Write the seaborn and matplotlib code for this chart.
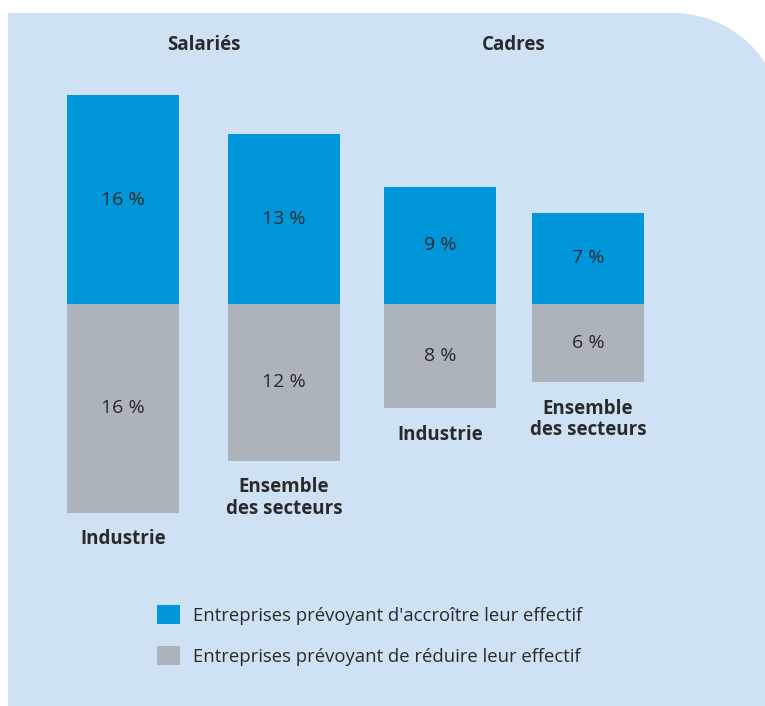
import numpy as np
import pandas as pd
import matplotlib
matplotlib.use("Agg")
import matplotlib.pyplot as plt
from matplotlib.path import Path
from matplotlib.patches import PathPatch, Patch
from matplotlib.transforms import blended_transform_factory
import seaborn as sns

# --- data -------------------------------------------------------------
groups = ["Salariés", "Salariés", "Cadres", "Cadres"]
categories = ["Industrie", "Ensemble\ndes secteurs", "Industrie", "Ensemble\ndes secteurs"]
accroitre = [16, 13, 9, 7]   # share of firms planning to grow headcount (%)
reduire = [16, 12, 8, 6]     # share of firms planning to cut headcount (%)
legend_labels = ["Entreprises prévoyant d'accroître leur effectif",
                 "Entreprises prévoyant de réduire leur effectif"]

# --- layout / style ---------------------------------------------------
W, H = 765, 706
bar_x = [123, 284, 440, 588]          # bar centres, in pixel units of the x axis
bar_w = 112
BLUE = "#0097da"
GREY = "#adb3bb"
PANEL = "#cfe1f4"
TEXT = "#2a2a2a"

sns.set_style("white")
plt.rcParams["font.family"] = ["Open Sans", "DejaVu Sans"]

df = pd.DataFrame({"x": bar_x, "groupe": groups, "categorie": categories,
                   "accroitre": accroitre, "reduire": [-v for v in reduire]})

fig = plt.figure(figsize=(W / 100, H / 100), dpi=100)
fig.patch.set_facecolor("white")

# light-blue background panel with a rounded top-right corner
left, top, r = 8, H - 13, 110
cx, cy = 673, top - r
theta = np.linspace(np.pi / 2, 0, 40)
pts = [(left, 0), (left, top), (cx, top)]
pts += list(zip(cx + r * np.cos(theta), cy + r * np.sin(theta)))
pts += [(cx + r, 0), (left, 0)]
pts = [(px / W, py / H) for px, py in pts]
panel = PathPatch(Path(pts), facecolor=PANEL, edgecolor="none",
                  transform=fig.transFigure, zorder=0)
fig.add_artist(panel)

# axes: zero line at 304 px from the top, 13.05 px per percentage point
ppp = 13.05
ylo, yhi = -20, 20
zero_px = 304
ax_top = zero_px - yhi * ppp
ax_h = (yhi - ylo) * ppp
ax = fig.add_axes([0, 1 - (ax_top + ax_h) / H, 1, ax_h / H])
ax.set_facecolor("none")

rel_w = bar_w / np.min(np.diff(bar_x))
sns.barplot(data=df, x="x", y="accroitre", native_scale=True, width=rel_w,
            color=BLUE, saturation=1, errorbar=None, linewidth=0, ax=ax, zorder=2)
sns.barplot(data=df, x="x", y="reduire", native_scale=True, width=rel_w,
            color=GREY, saturation=1, errorbar=None, linewidth=0, ax=ax, zorder=2)
ax.set_xlim(0, W)
ax.set_ylim(ylo, yhi)
ax.set_axis_off()

# value labels centred in each segment
for x, up, down in zip(bar_x, accroitre, reduire):
    ax.text(x, up / 2, f"{up} %", ha="center", va="center",
            fontsize=14, color=TEXT)
    ax.text(x, -down / 2, f"{down} %", ha="center", va="center",
            fontsize=14, color=TEXT)

# category labels under each bar
for x, down, cat in zip(bar_x, reduire, categories):
    ax.annotate(cat, (x, -down), xytext=(0, -12), textcoords="offset points",
                ha="center", va="top", fontsize=13.5, fontweight="bold",
                color=TEXT, linespacing=1.1)

# group titles
title_tr = blended_transform_factory(ax.transData, fig.transFigure)
for g in dict.fromkeys(groups):
    xs = [x for x, gg in zip(bar_x, groups) if gg == g]
    ax.text(np.mean(xs), 1 - 45 / H, g, transform=title_tr,
            ha="center", va="center", fontsize=13.5, fontweight="bold", color=TEXT)

# legend
handles = [Patch(facecolor=BLUE, edgecolor="none"),
           Patch(facecolor=GREY, edgecolor="none")]
fig.legend(handles, legend_labels, loc="upper left",
           bbox_to_anchor=(157 / W, 1 - 605 / H), frameon=False,
           fontsize=13.3, handlelength=1.22, handleheight=1.22,
           handletextpad=0.72, labelspacing=1.15, borderpad=0, borderaxespad=0,
           labelcolor=TEXT)

fig.savefig("out.png", dpi=100, facecolor=fig.get_facecolor())
